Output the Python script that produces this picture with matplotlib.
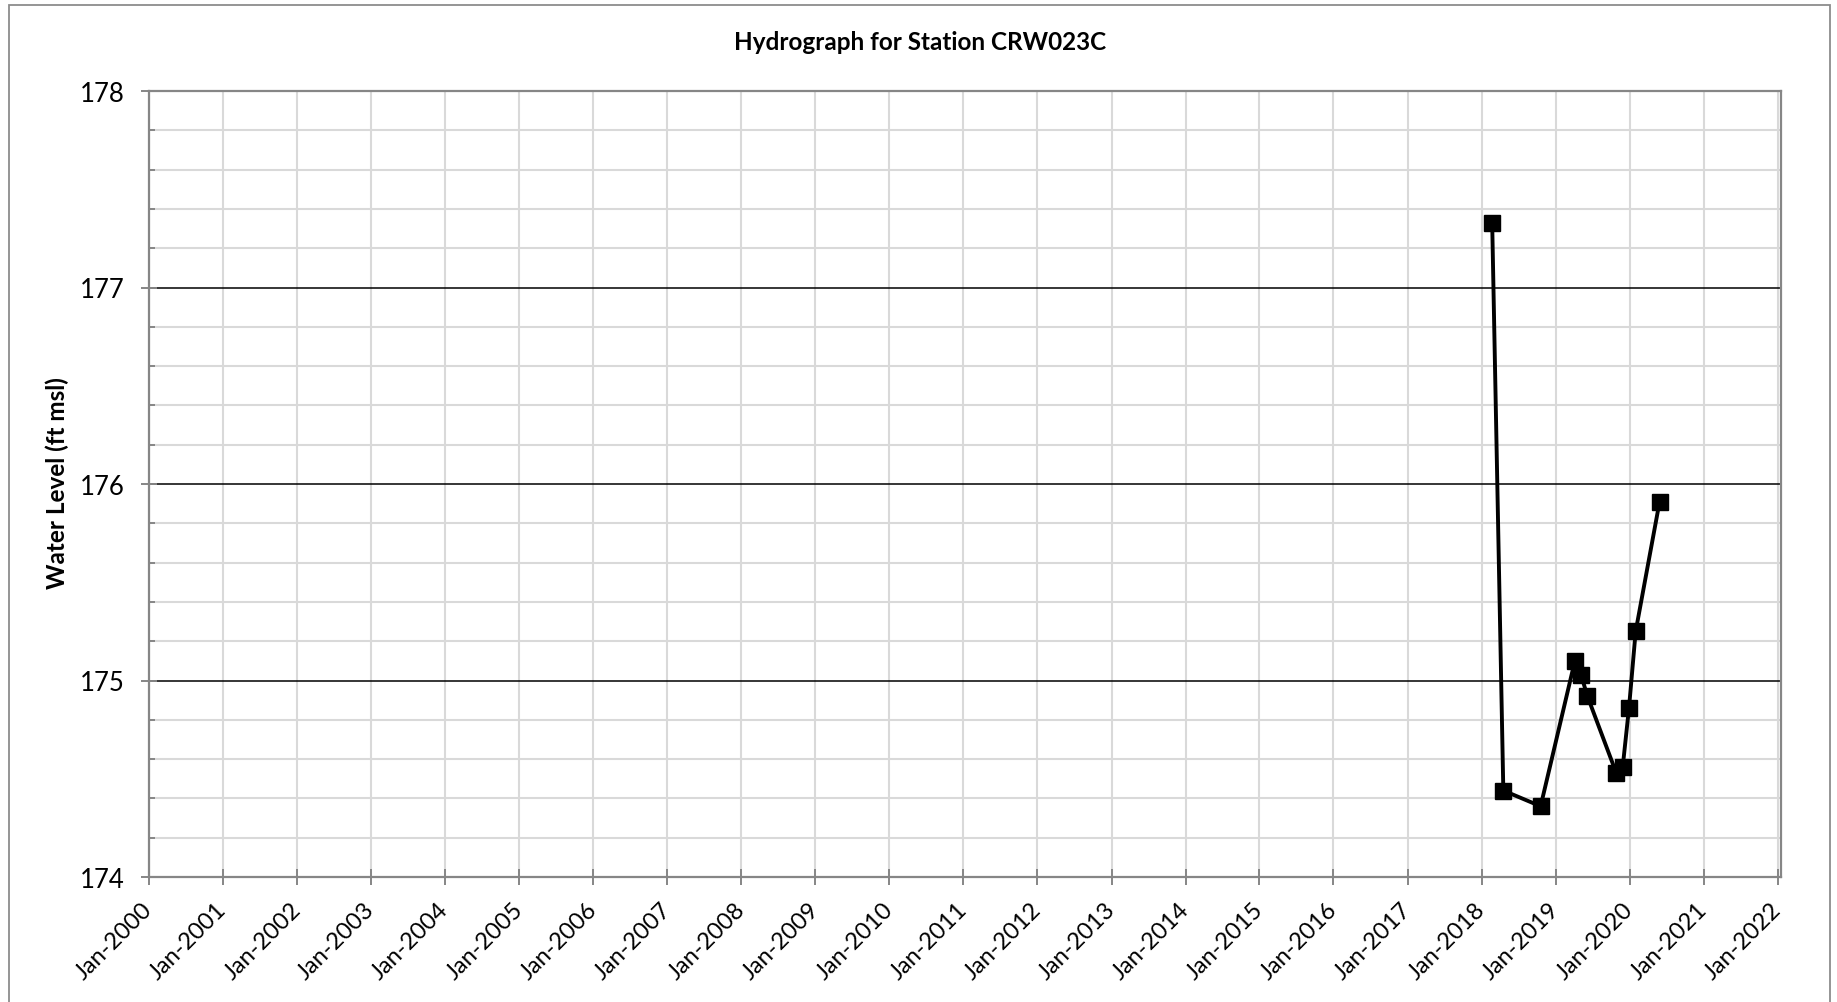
import matplotlib
matplotlib.use("Agg")
import matplotlib.pyplot as plt
import matplotlib.dates as mdates
from matplotlib.patches import Rectangle
from matplotlib.ticker import MultipleLocator
import pandas as pd

# ---- data ----
dates = ["2018-02-22", "2018-04-18", "2018-10-19", "2019-04-06", "2019-05-06",
         "2019-06-07", "2019-10-27", "2019-11-28", "2019-12-29", "2020-01-31",
         "2020-05-28"]
water_level = [177.33, 174.44, 174.36, 175.10, 175.03, 174.92, 174.53,
               174.56, 174.86, 175.25, 175.91]
year_ticks = [f"{y}-01-01" for y in range(2000, 2023)]
title = "Hydrograph for Station CRW023C"
ylabel = "Water Level (ft msl)"

x = pd.to_datetime(dates)
xt = pd.to_datetime(year_ticks)

plt.rcParams['font.family'] = ['Lato', 'DejaVu Sans']

W, H = 1837, 1003
fig = plt.figure(figsize=(W / 100, H / 100), dpi=100)
ax = fig.add_axes([149 / W, 1 - 878 / H, (1781 - 149) / W, (878 - 92) / H])

# outer chart border
fig.patches.append(Rectangle((9 / W, -0.05), (1830 - 9) / W, 1.05 - 6 / H,
                             transform=fig.transFigure, fill=False,
                             edgecolor="#8c8c8c", linewidth=1.3, zorder=0))

ax.set_ylim(174, 178)
ax.set_xlim(pd.Timestamp("2000-01-01"), pd.Timestamp("2022-01-17"))

ax.yaxis.set_major_locator(MultipleLocator(1))
ax.yaxis.set_minor_locator(MultipleLocator(0.2))
ax.set_xticks(xt)
ax.xaxis.set_major_formatter(mdates.DateFormatter("%b-%Y"))

# gridlines
ax.grid(which="minor", axis="y", color="#d9d9d9", linewidth=1.5, zorder=0)
ax.grid(which="major", axis="x", color="#d9d9d9", linewidth=1.5, zorder=0)
ax.grid(which="major", axis="y", color="black", linewidth=1.1, zorder=1)

for s in ax.spines.values():
    s.set_color("#868686")
    s.set_linewidth(1.6)
    s.set_zorder(2)

ax.tick_params(axis="y", which="major", direction="inout", length=11.5,
               width=1.4, color="#868686", pad=12, labelsize=18.5)
ax.tick_params(axis="y", which="minor", direction="in", length=4.5,
               width=1.4, color="#868686")
ax.tick_params(axis="x", which="major", direction="inout", length=11.5,
               width=1.4, color="#868686", pad=15, labelsize=17)
for lbl in ax.get_xticklabels():
    lbl.set_rotation(45)
    lbl.set_ha("right")
    lbl.set_va("center")
    lbl.set_rotation_mode("anchor")

ax.plot(x, water_level, color="black", linewidth=2.8, marker="s",
        markersize=12, markerfacecolor="black", markeredgecolor="black",
        zorder=5, clip_on=False)

fig.text(920 / W, 1 - 43 / H, title, ha="center", va="center",
         fontsize=17.5, fontweight="bold")
fig.text(57 / W, 1 - 483 / H, ylabel, ha="center", va="center",
         rotation=90, fontsize=17.5, fontweight="bold")

fig.savefig("out.png", dpi=100)
